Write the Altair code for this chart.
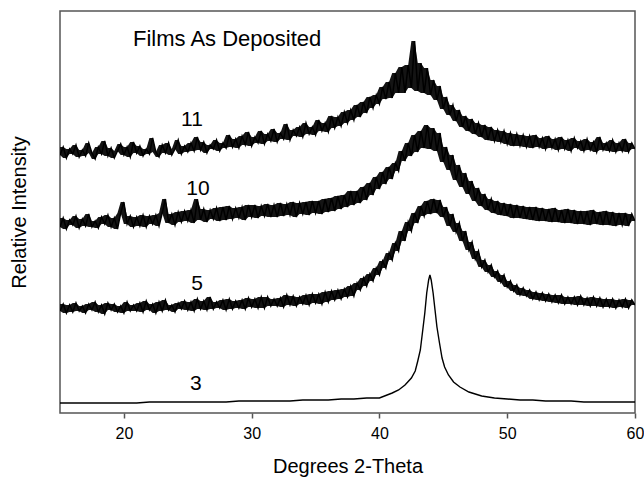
import altair as alt
import pandas as pd

# sampling grid of the three noisy scans (0.25 degree step, 15..60)
x_noisy = [round(15 + 0.25 * i, 2) for i in range(181)]

# Film 11 (rows: one degree each, values at .00 .25 .50 .75)
y_11 = [
    258, 266, 255, 264,
    259, 268, 256, 263,
    257, 270, 260, 254,
    266, 259, 272, 257,
    265, 255, 262, 269,
    258, 266, 256, 271,
    260, 267, 257, 264,
    259, 275, 261, 256,
    268, 260, 270, 258,
    264, 273, 259, 267,
    261, 270, 262, 276,
    263, 271, 260, 268,
    264, 273, 262, 270,
    265, 278, 266, 274,
    265, 277, 268, 281,
    267, 276, 270, 282,
    269, 279, 272, 284,
    271, 280, 274, 289,
    273, 283, 277, 286,
    276, 290, 279, 286,
    278, 293, 282, 290,
    281, 297, 285, 296,
    287, 301, 290, 303,
    293, 308, 296, 311,
    300, 316, 305, 318,
    309, 326, 314, 331,
    315, 340, 320, 346,
    320, 348, 325, 372,
    322, 350, 320, 345,
    318, 333, 313, 327,
    304, 316, 298, 308,
    292, 303, 286, 297,
    282, 294, 279, 290,
    276, 288, 273, 286,
    272, 283, 271, 282,
    269, 280, 267, 279,
    267, 278, 266, 277,
    265, 278, 266, 275,
    264, 277, 265, 274,
    263, 276, 264, 273,
    262, 275, 265, 272,
    262, 274, 263, 271,
    261, 276, 263, 270,
    262, 273, 261, 270,
    262, 274, 261, 270,
    264,
]

# Film 10
y_10 = [
    186, 195, 184, 193,
    188, 197, 185, 194,
    187, 199, 186, 192,
    185, 196, 189, 198,
    186, 195, 184, 200,
    211, 189, 197, 186,
    196, 187, 198, 186,
    197, 189, 198, 187,
    200, 214, 190, 199,
    188, 201, 191, 202,
    192, 203, 190, 214,
    193, 204, 191, 203,
    194, 205, 192, 206,
    193, 207, 194, 205,
    195, 206, 193, 208,
    196, 208, 195, 207,
    197, 209, 196, 208,
    196, 210, 197, 209,
    198, 211, 196, 210,
    199, 211, 198, 212,
    200, 212, 199, 214,
    201, 215, 202, 217,
    204, 218, 206, 222,
    208, 222, 210, 226,
    213, 230, 218, 236,
    224, 241, 229, 246,
    234, 250, 242, 262,
    252, 270, 257, 278,
    261, 282, 265, 288,
    264, 285, 262, 280,
    251, 266, 243, 258,
    233, 248, 226, 240,
    219, 232, 212, 225,
    207, 219, 203, 214,
    200, 212, 198, 210,
    197, 209, 195, 208,
    195, 207, 194, 206,
    193, 206, 192, 205,
    192, 204, 191, 205,
    191, 203, 190, 204,
    190, 203, 189, 202,
    189, 202, 188, 203,
    189, 201, 188, 202,
    188, 201, 187, 200,
    188, 200, 187, 199,
    192,
]

# Film 5
y_5 = [
    102, 109, 100, 108,
    101, 110, 102, 107,
    100, 109, 103, 111,
    101, 108, 99, 110,
    103, 109, 101, 107,
    100, 111, 102, 108,
    102, 110, 101, 112,
    103, 109, 100, 111,
    102, 113, 103, 108,
    101, 110, 104, 112,
    103, 111, 102, 114,
    104, 112, 103, 116,
    104, 111, 105, 113,
    103, 114, 104, 112,
    105, 113, 104, 115,
    106, 114, 105, 116,
    105, 116, 107, 114,
    107, 115, 106, 118,
    108, 117, 107, 116,
    109, 118, 108, 119,
    110, 119, 109, 121,
    111, 122, 113, 123,
    114, 124, 116, 127,
    117, 130, 123, 135,
    127, 139, 132, 145,
    138, 152, 145, 160,
    153, 170, 162, 182,
    172, 191, 182, 200,
    190, 207, 197, 212,
    199, 214, 200, 213,
    196, 206, 187, 199,
    181, 190, 172, 182,
    163, 171, 154, 162,
    146, 153, 141, 148,
    136, 142, 131, 138,
    126, 132, 122, 128,
    118, 125, 117, 123,
    114, 121, 113, 120,
    112, 119, 111, 118,
    110, 118, 109, 116,
    109, 116, 108, 117,
    108, 115, 107, 116,
    107, 115, 106, 114,
    106, 114, 105, 113,
    106, 114, 105, 113,
    108,
]

# Film 3 (sharp peak, own sampling)
x_3 = [15, 16, 17, 18, 19, 20, 21, 22, 23, 24, 25, 26, 27, 28, 29, 30, 31, 32,
       33, 34, 35, 36, 37, 38, 39, 40, 41,
       41.5, 42, 42.5, 42.8, 43.0, 43.2, 43.4, 43.55, 43.7, 43.85, 43.95, 44.05,
       44.2, 44.35, 44.5, 44.7, 44.9, 45.1, 45.4, 45.8, 46.3, 47,
       48, 49, 50, 51, 52, 53, 54, 55, 56, 57, 58, 59, 60]
y_3 = [10, 10, 10, 10, 10, 10, 10, 11, 11, 11, 11, 11, 11, 11, 12, 12, 12, 12,
       12, 13, 13, 13, 14, 14, 15, 15, 20,
       23, 28, 35, 42, 52, 63, 84, 100, 120, 133, 138, 133,
       120, 103, 86, 70, 55, 46, 38, 31, 26, 21,
       17, 15, 14, 13, 13, 12, 12, 12, 11, 11, 11, 11, 11]

label_text = ["11", "10", "5", "3"]
label_x = [25.33, 25.8, 25.72, 25.64]
label_y = [293, 224, 129, 29]

title_text = ["Films As Deposited"]
title_x = [20.71]
title_y = [374]

x_ticks = [20, 30, 40, 50, 60]

rows = []
for name, xs, ys in [("11", x_noisy, y_11), ("10", x_noisy, y_10),
                     ("5", x_noisy, y_5)]:
    for i, (a, b) in enumerate(zip(xs, ys)):
        nxt = ys[i + 1] if i + 1 < len(ys) else b
        rows.append({"x": a, "y": b, "s": name,
                     "lo": min(b, nxt), "hi": max(b, nxt)})
df_noisy = pd.DataFrame(rows)
df_3 = pd.DataFrame({"x": x_3, "y": y_3, "s": "3"})

df_lab = pd.DataFrame({"x": label_x, "y": label_y, "t": label_text})
df_title = pd.DataFrame({"x": title_x, "y": title_y, "t": title_text})

FONT = "Liberation Sans"
xscale = alt.Scale(domain=[15, 60], nice=False, zero=False)
yscale = alt.Scale(domain=[0, 402], nice=False, zero=False)

x_axis = alt.Axis(title="Degrees 2-Theta", values=x_ticks, grid=False,
                  domain=False, tickSize=5, tickWidth=1.5, tickColor="#555555",
                  labelFont=FONT, labelFontSize=16, labelColor="black",
                  labelPadding=7, labelFlush=False,
                  titleFont=FONT, titleFontSize=20, titleFontWeight="normal",
                  titleColor="black", titlePadding=15)
y_axis = alt.Axis(title="Relative Intensity", labels=False, ticks=False,
                  domain=False, grid=False,
                  titleFont=FONT, titleFontSize=20, titleFontWeight="normal",
                  titleColor="black", titlePadding=31)

# noise band: span between neighbouring readings of each scan
band = alt.Chart(df_noisy).mark_area(color="#141414", clip=True).encode(
    x=alt.X("x:Q", scale=xscale, axis=x_axis),
    y=alt.Y("lo:Q", scale=yscale, axis=y_axis),
    y2="hi:Q",
    detail="s:N")

noisy = alt.Chart(df_noisy).mark_line(color="black", strokeWidth=1.5, clip=True).encode(
    x=alt.X("x:Q", scale=xscale), y=alt.Y("y:Q", scale=yscale), detail="s:N")

sharp = alt.Chart(df_3).mark_line(color="black", strokeWidth=1.4, clip=True).encode(
    x=alt.X("x:Q", scale=xscale), y=alt.Y("y:Q", scale=yscale))

labels = alt.Chart(df_lab).mark_text(font=FONT, fontSize=21, align="center",
                                     baseline="middle", color="black").encode(
    x=alt.X("x:Q", scale=xscale), y=alt.Y("y:Q", scale=yscale), text="t:N")

title = alt.Chart(df_title).mark_text(font=FONT, fontSize=22, align="left",
                                      baseline="middle", color="black").encode(
    x=alt.X("x:Q", scale=xscale), y=alt.Y("y:Q", scale=yscale), text="t:N")

chart = alt.layer(band, noisy, sharp, labels, title).properties(
    width=575, height=402, autosize="none",
    padding={"left": 60, "top": 11, "right": 9, "bottom": 70},
    background="white",
).configure_view(stroke="#555555", strokeWidth=1.5)

chart.save("out.html", embed_options={"renderer": "svg", "actions": False})
